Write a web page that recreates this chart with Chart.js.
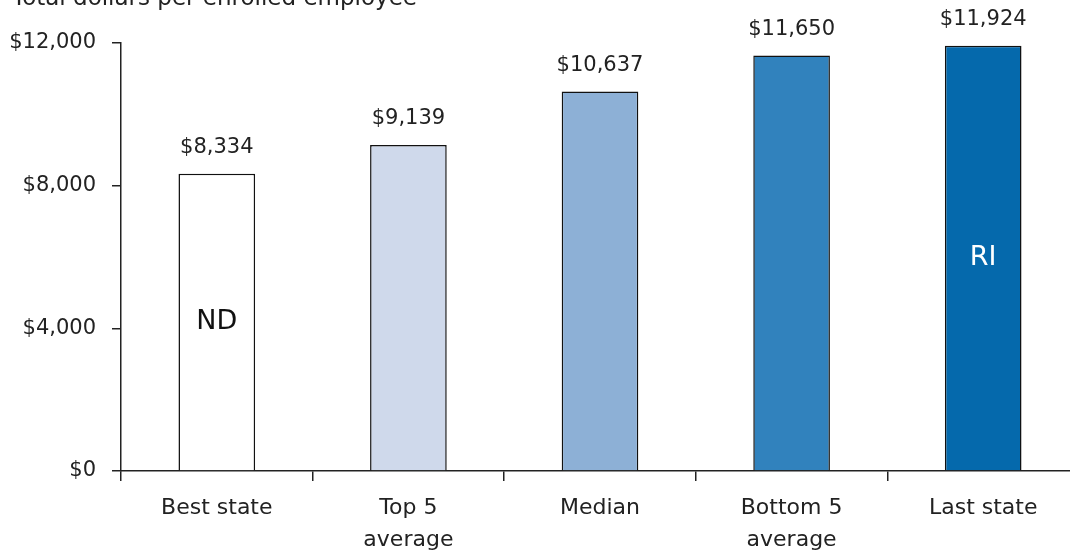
<!DOCTYPE html>
<html>
<head>
<meta charset="utf-8">
<script src="https://cdn.jsdelivr.net/npm/chart.js@4"></script>
<style>
  html, body { margin: 0; padding: 0; background: #fff; }
  #wrap { width: 1070px; height: 552px; overflow: hidden; position: relative; }
  #wrap canvas { position: absolute; left: 0; top: 0; }
</style>
</head>
<body>
<div id="wrap"><canvas id="chart" width="1100" height="552"></canvas></div>
<script>
const categorias = [["Best state"], ["Top 5", "average"], ["Median"], ["Bottom 5", "average"], ["Last state"]];
const costos = [8334, 9139, 10637, 11650, 11924];
const etiquetasDentro = ["ND", "", "", "", "RI"];
const colores = ["#ffffff", "#cfd9eb", "#8db0d6", "#3182bd", "#0569ac"];
const colorTextoDentro = ["#111111", "#111111", "#111111", "#ffffff", "#ffffff"];
const ticksY = [0, 4000, 8000, 12000];
const titulo = "Total dollars per enrolled employee";

const fuente = "'DejaVu Sans', sans-serif";
const dinero = v => "$" + v.toLocaleString("en-US");

// etiquetas de valor encima de cada barra y codigo del estado dentro
const etiquetasPlugin = {
    id: "etiquetas",
    afterDatasetsDraw(chart) {
        const ctx = chart.ctx;
        const meta = chart.getDatasetMeta(0);
        ctx.save();
        ctx.textAlign = "center";
        ctx.textBaseline = "middle";
        meta.data.forEach((bar, i) => {
            ctx.font = "21px " + fuente;
            ctx.fillStyle = "#222";
            ctx.fillText(dinero(costos[i]), bar.x, bar.y - 26);
            if (etiquetasDentro[i]) {
                ctx.font = "27px " + fuente;
                ctx.fillStyle = colorTextoDentro[i];
                ctx.fillText(etiquetasDentro[i], bar.x, (bar.y + bar.base) / 2);
            }
        });
        // titulo del eje, pegado arriba a la izquierda
        ctx.textAlign = "left";
        ctx.textBaseline = "alphabetic";
        ctx.font = "23px " + fuente;
        ctx.fillStyle = "#222";
        ctx.fillText(titulo, 12, 5);
        ctx.restore();
    }
};

new Chart(document.getElementById("chart").getContext("2d"), {
    type: "bar",
    data: {
        labels: categorias,
        datasets: [{
            data: costos,
            backgroundColor: colores,
            borderColor: "#111",
            borderWidth: 1.5,
            barPercentage: 0.4,
            categoryPercentage: 1
        }]
    },
    options: {
        responsive: false,
        animation: false,
        layout: { padding: { top: 43, right: 21, left: 0, bottom: 0 } },
        plugins: { legend: { display: false }, tooltip: { enabled: false } },
        scales: {
            x: {
                grid: { offset: true, drawOnChartArea: false, tickLength: 10, color: "#222", lineWidth: 1.5 },
                border: { color: "#222", width: 1.5 },
                ticks: { color: "#222", font: { family: fuente, size: 22, lineHeight: 1.45 }, padding: 11, maxRotation: 0 },
                afterFit: s => { s.height = 81; }
            },
            y: {
                min: 0,
                max: 12000,
                afterBuildTicks: s => { s.ticks = ticksY.map(v => ({ value: v })); },
                grid: { drawOnChartArea: false, tickLength: 9, color: "#222", lineWidth: 1.5 },
                border: { color: "#222", width: 1.5 },
                ticks: { color: "#222", font: { family: fuente, size: 21 }, padding: 16, callback: v => dinero(v) },
                afterFit: s => { s.width = 121; }
            }
        }
    },
    plugins: [etiquetasPlugin]
});
</script>
</body>
</html>
